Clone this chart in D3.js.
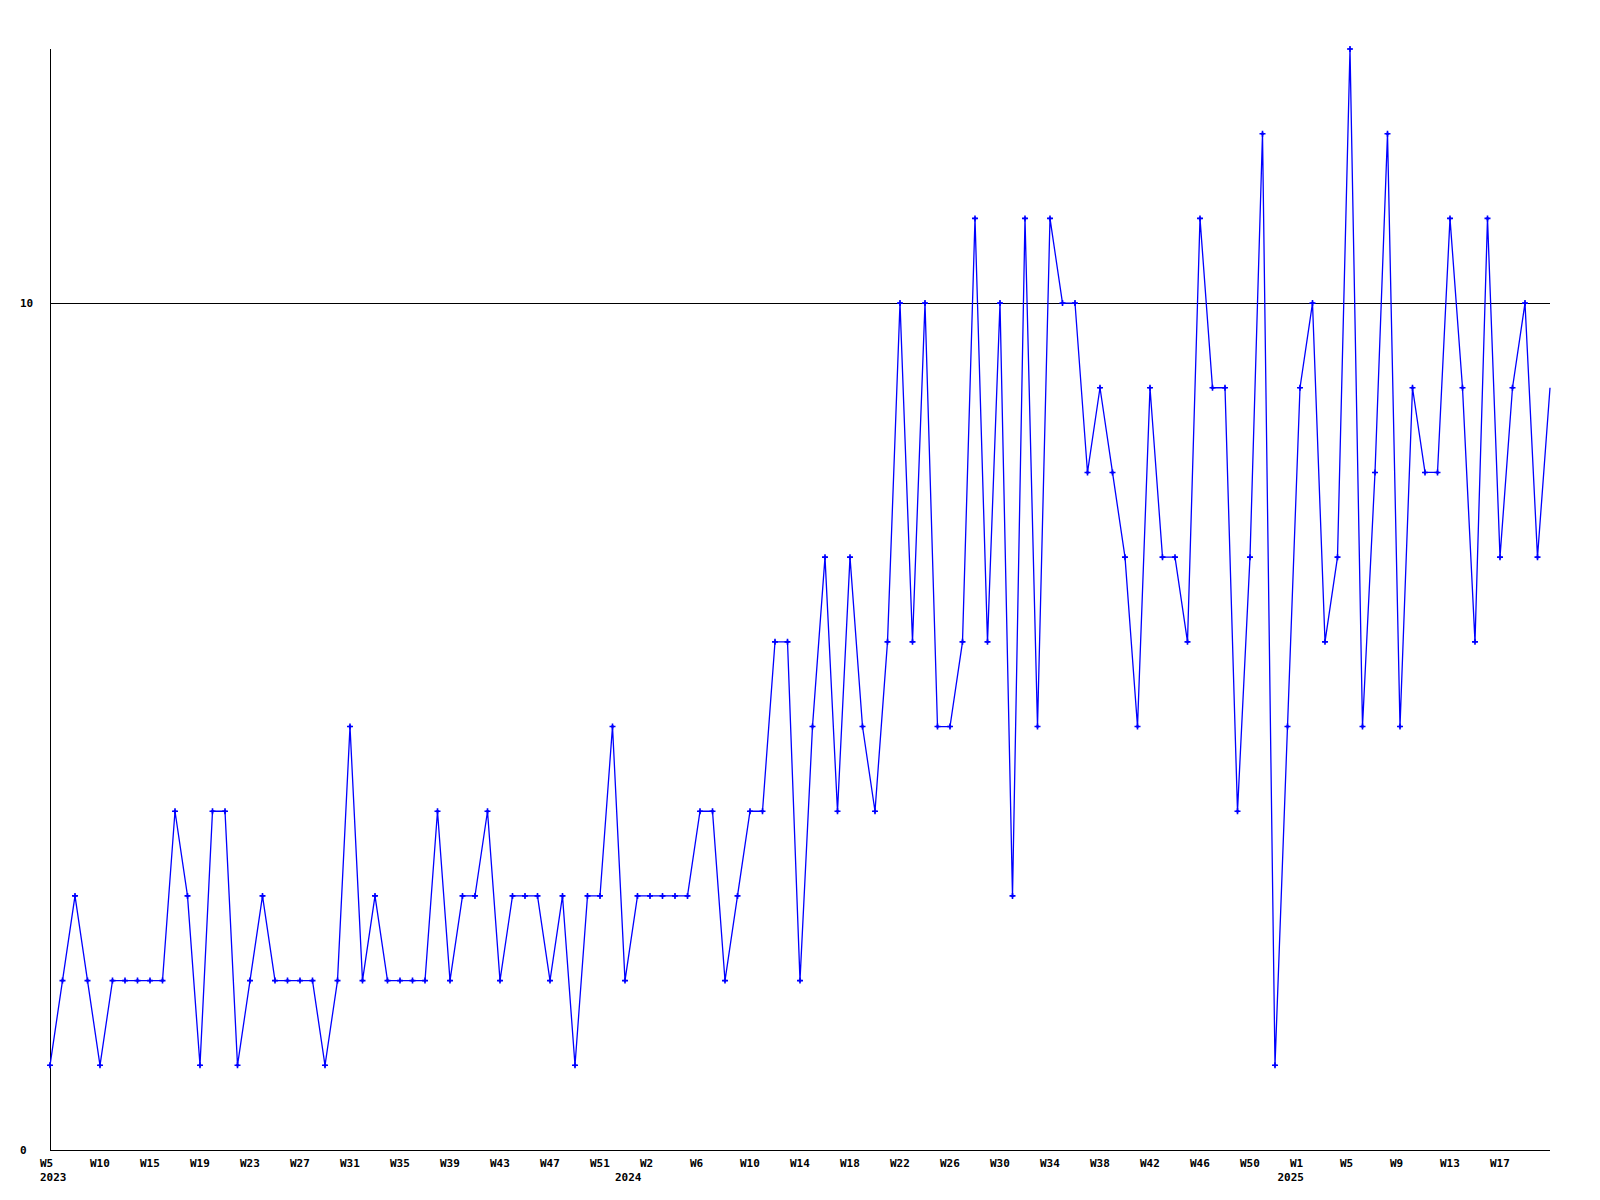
<!DOCTYPE html>
<html>
<head>
<meta charset="utf-8">
<script src="https://cdn.jsdelivr.net/npm/d3@7"></script>
<style>
  html, body { margin: 0; padding: 0; background: #ffffff; }
  svg { display: block; }
  text { font-family: "DejaVu Sans Mono", "Liberation Mono", monospace; font-weight: bold; font-size: 11px; fill: #000; }
</style>
</head>
<body>
<svg id="chart" width="1600" height="1200"></svg>
<script>
// Weekly values, 2023 W5 .. 2025 W21 (121 points)
const values = [
  1, 2, 3, 2, 1, 2, 2, 2, 2, 2,
  4, 3, 1, 4, 4, 1, 2, 3, 2, 2,
  2, 2, 1, 2, 5, 2, 3, 2, 2, 2,
  2, 4, 2, 3, 3, 4, 2, 3, 3, 3,
  2, 3, 1, 3, 3, 5, 2, 3, 3, 3,
  3, 3, 4, 4, 2, 3, 4, 4, 6, 6,
  2, 5, 7, 4, 7, 5, 4, 6, 10, 6,
  10, 5, 5, 6, 11, 6, 10, 3, 11, 5,
  11, 10, 10, 8, 9, 8, 7, 5, 9, 7,
  7, 6, 11, 9, 9, 4, 7, 12, 1, 5,
  9, 10, 6, 7, 13, 5, 8, 12, 5, 9,
  8, 8, 11, 9, 6, 11, 7, 9, 10, 7,
  9
];

// Tick labels shown every 4th point
const weekTickLabels = [
  "W5", "W10", "W15", "W19", "W23", "W27", "W31", "W35", "W39", "W43", "W47", "W51",
  "W2", "W6", "W10", "W14", "W18", "W22", "W26", "W30", "W34", "W38", "W42", "W46", "W50",
  "W1", "W5", "W9", "W13", "W17"
];
const tickStep = 4;

// Year labels and the point index where each appears
const yearLabels = ["2023", "2024", "2025"];
const yearIndex = [0, 46, 99];

// Y axis labels / gridlines
const yTickValues = [0, 10];
const yMax = 13;

(function () {
  const svg = d3.select("#chart");
  const mLeft = 50, mRight = 1550, mTop = 49, mBottom = 1150;

  const x = d3.scaleLinear().domain([0, values.length - 1]).range([mLeft, mRight]);
  const y = d3.scaleLinear().domain([0, yMax]).range([mBottom, mTop]);

  // gridline at 10
  svg.selectAll("line.grid")
    .data(yTickValues.filter(v => v > 0))
    .enter().append("line")
    .attr("class", "grid")
    .attr("x1", mLeft).attr("x2", mRight)
    .attr("y1", d => Math.round(y(d)) + 0.5).attr("y2", d => Math.round(y(d)) + 0.5)
    .attr("stroke", "#000").attr("stroke-width", 1);

  // axes lines
  svg.append("line")
    .attr("x1", mLeft + 0.5).attr("x2", mLeft + 0.5)
    .attr("y1", mTop).attr("y2", mBottom)
    .attr("stroke", "#000").attr("stroke-width", 1);
  svg.append("line")
    .attr("x1", mLeft).attr("x2", mRight)
    .attr("y1", mBottom + 0.5).attr("y2", mBottom + 0.5)
    .attr("stroke", "#000").attr("stroke-width", 1);

  // y labels
  svg.selectAll("text.ylab")
    .data(yTickValues)
    .enter().append("text")
    .attr("class", "ylab")
    .attr("x", 20)
    .attr("y", d => y(d) + 4)
    .text(d => d);

  // x week labels
  svg.selectAll("text.wlab")
    .data(weekTickLabels)
    .enter().append("text")
    .attr("class", "wlab")
    .attr("x", (d, i) => x(i * tickStep) - 10)
    .attr("y", mBottom + 17)
    .text(d => d);

  // year labels
  svg.selectAll("text.yrlab")
    .data(yearLabels)
    .enter().append("text")
    .attr("class", "yrlab")
    .attr("x", (d, i) => x(yearIndex[i]) - 10)
    .attr("y", mBottom + 31)
    .text(d => d);

  // data line
  const line = d3.line().x((d, i) => x(i)).y(d => y(d));
  svg.append("path")
    .datum(values)
    .attr("d", line)
    .attr("fill", "none")
    .attr("stroke", "#0000ff")
    .attr("stroke-width", 1.3)
    .attr("stroke-linejoin", "miter");

  // markers (skip last point which sits on the right edge)
  const markers = svg.selectAll("g.m")
    .data(values.slice(0, values.length - 1))
    .enter().append("g")
    .attr("class", "m")
    .attr("transform", (d, i) => `translate(${x(i)},${y(d)})`);
  markers.append("path")
    .attr("d", "M-3,0H3M0,-3V3")
    .attr("stroke", "#0000ff")
    .attr("stroke-width", 1.6)
    .attr("fill", "none");
  markers.append("path")
    .attr("d", "M-2,0L0,-2L2,0L0,2Z")
    .attr("fill", "#0000ff");
})();
</script>
</body>
</html>
